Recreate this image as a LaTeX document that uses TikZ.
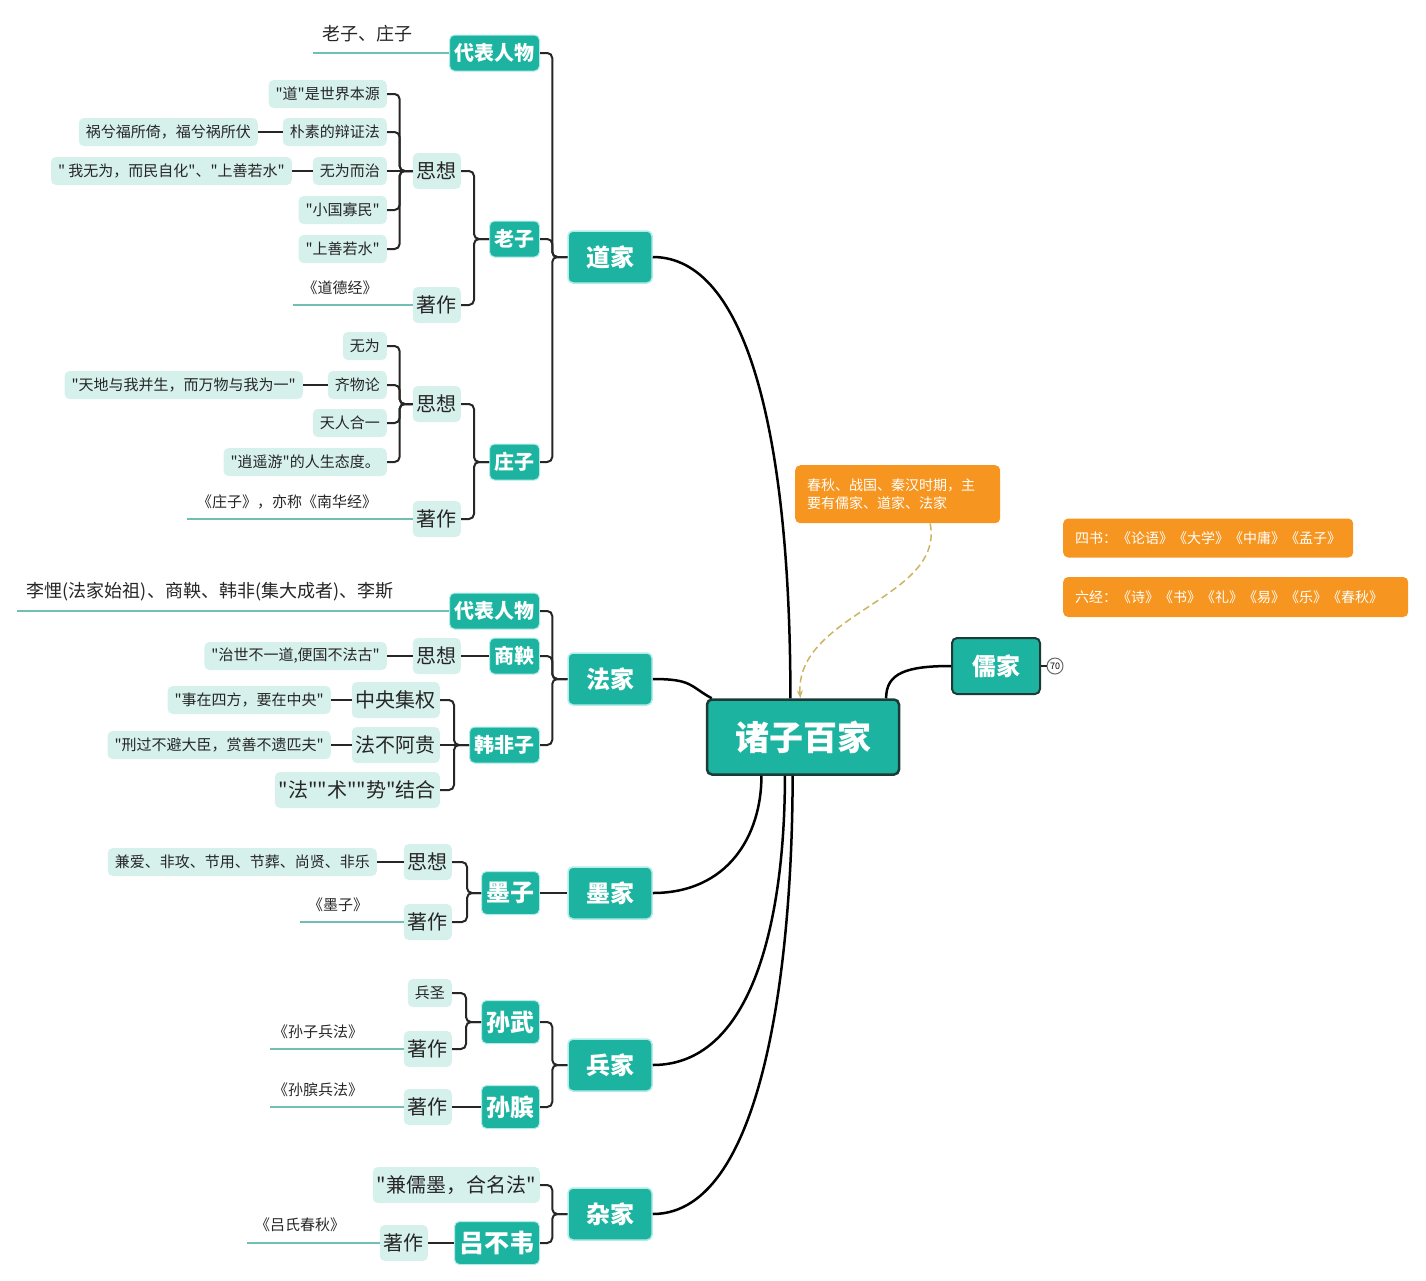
\documentclass[tikz,border=0pt]{standalone}
\usepackage{fontspec}
\setmainfont{Noto Sans CJK SC}[Ligatures=TeXOff]
\usepackage{tikz}
\usetikzlibrary{arrows.meta}

\definecolor{mint}{RGB}{28,180,161}
\definecolor{pale}{RGB}{214,240,236}
\definecolor{glow}{RGB}{178,236,232}
\definecolor{ink}{RGB}{38,38,38}
\definecolor{rim}{RGB}{28,58,54}
\definecolor{amber}{RGB}{246,150,32}
\definecolor{rule}{RGB}{112,190,180}
\definecolor{sand}{RGB}{204,180,96}

\begin{document}
\begin{tikzpicture}
[
x=1pt, y=-1pt,
every node/.style={inner sep=0pt, rounded corners=5pt},
root/.style={fill=mint, draw=rim, line width=2.5pt, text=white,
  font=\fontsize{34pt}{36pt}\selectfont\bfseries, minimum width=192, minimum height=75},
school/.style={fill=mint, draw=glow, line width=1.5pt, text=white,
  font=\fontsize{24pt}{26pt}\selectfont\bfseries, minimum width=84, minimum height=52},
person/.style={fill=mint, draw=glow, line width=1pt, text=white,
  font=\fontsize{20pt}{22pt}\selectfont\bfseries, inner xsep=5pt, minimum height=36, anchor=east},
big/.style={font=\fontsize{24pt}{26pt}\selectfont\bfseries, minimum height=43},
topic/.style={fill=pale, text=ink, font=\fontsize{20pt}{22pt}\selectfont,
  inner xsep=4pt, minimum height=36, anchor=east},
leaf/.style={fill=pale, text=ink, font=\fontsize{15pt}{17pt}\selectfont,
  inner xsep=7pt, minimum height=28, anchor=east},
title/.style={text=ink, font=\fontsize{15pt}{17pt}\selectfont},
note/.style={fill=amber, text=white, font=\fontsize{14pt}{18pt}\selectfont,
  inner xsep=12pt, inner ysep=9pt, align=left},
brace/.style={draw=ink, line width=2pt, rounded corners=5pt},
link/.style={draw=ink, line width=2pt},
stem/.style={draw=rule, line width=2pt},
trunk/.style={draw=black, line width=2.5pt},
hint/.style={draw=sand, line width=1.5pt, dash pattern=on 7pt off 4pt, -{Stealth[length=8pt]}}
]
\useasboundingbox (0,0) rectangle (1426,1280);

% centre and schools
\node[root] (main) at (803,737) {诸子百家};
\node[school] (daojia) at (610,257) {道家};
\node[school] (fajia) at (610,679) {法家};
\node[school] (mojia) at (610,893) {墨家};
\node[school] (bingjia) at (610,1065) {兵家};
\node[school] (zajia) at (610,1214) {杂家};
\node[school, draw=rim, line width=2pt, minimum width=88, minimum height=56] (rujia) at (996,666) {儒家};
\node[circle, draw=ink!70, fill=white, line width=1pt, minimum size=16,
  font=\fontsize{9pt}{9pt}\selectfont] (more) at (1055,666) {70};

% notes
\node[note, anchor=north west, text width=181pt, minimum height=58] (era) at (795,465)
  {春秋、战国、秦汉时期，主\\要有儒家、道家、法家};
\node[note, anchor=west, minimum height=39] (sishu) at (1063,538) {四书：《论语》《大学》《中庸》《孟子》};
\node[note, anchor=west, minimum height=40, text width=321pt] (liujing) at (1063,597) {六经：《诗》《书》《礼》《易》《乐》《春秋》};

% 道家
\node[person] (dj-rep) at (540,53) {代表人物};
\node[person] (laozi) at (540,239) {老子};
\node[person] (zhuangzi) at (540,462) {庄子};
\node[title, font=\fontsize{18pt}{20pt}\selectfont] (dj-who) at (367,34) {老子、庄子};
\coordinate (dj-end) at (313,53);

\node[topic] (lz-idea) at (461,171) {思想};
\node[topic] (lz-book) at (461,305) {著作};
\node[leaf] (lz-i1) at (387,94) {"道"是世界本源};
\node[leaf] (lz-i2) at (387,132) {朴素的辩证法};
\node[leaf] (lz-i3) at (387,171) {无为而治};
\node[leaf] (lz-i4) at (387,210) {"小国寡民"};
\node[leaf] (lz-i5) at (387,249) {"上善若水"};
\node[leaf] (lz-d2) at (258,132) {祸兮福所倚，福兮祸所伏};
\node[leaf] (lz-d3) at (292,171) {" 我无为，而民自化"、"上善若水"};
\node[title] (lz-work) at (340,288) {《道德经》};
\coordinate (lz-end) at (293,305);

\node[topic] (zz-idea) at (461,404) {思想};
\node[topic] (zz-book) at (461,519) {著作};
\node[leaf] (zz-i1) at (387,346) {无为};
\node[leaf] (zz-i2) at (387,385) {齐物论};
\node[leaf] (zz-i3) at (387,423) {天人合一};
\node[leaf] (zz-i4) at (387,462) {"逍遥游"的人生态度。};
\node[leaf] (zz-d2) at (303,385) {"天地与我并生，而万物与我为一"};
\node[title] (zz-work) at (287,502) {《庄子》，亦称《南华经》};
\coordinate (zz-end) at (187,519);

% 法家
\node[person] (fj-rep) at (540,611) {代表人物};
\node[person] (shangyang) at (540,656) {商鞅};
\node[person] (hanfeizi) at (540,745) {韩非子};
\node[title, font=\fontsize{18pt}{20pt}\selectfont] (fj-who) at (210,592) {李悝(法家始祖)、商鞅、韩非(集大成者)、李斯};
\coordinate (fj-end) at (17,611);
\node[topic] (sy-idea) at (461,656) {思想};
\node[leaf] (sy-d) at (387,656) {"治世不一道,便国不法古"};
\node[topic] (hf-1) at (440,700) {中央集权};
\node[topic] (hf-2) at (440,745) {法不阿贵};
\node[topic] (hf-3) at (440,790) {"法""术""势"结合};
\node[leaf] (hf-d1) at (331,700) {"事在四方，要在中央"};
\node[leaf] (hf-d2) at (331,745) {"刑过不避大臣，赏善不遗匹夫"};

% 墨家
\node[person, big] (mozi) at (540,893) {墨子};
\node[topic] (mz-idea) at (452,862) {思想};
\node[topic] (mz-book) at (452,922) {著作};
\node[leaf] (mz-d) at (377,862) {兼爱、非攻、节用、节葬、尚贤、非乐};
\node[title] (mz-work) at (338,905) {《墨子》};
\coordinate (mz-end) at (300,922);

% 兵家
\node[person, big] (sunwu) at (540,1022) {孙武};
\node[person, big] (sunbin) at (540,1107) {孙膑};
\node[leaf] (sw-1) at (452,993) {兵圣};
\node[topic] (sw-book) at (452,1049) {著作};
\node[title] (sw-work) at (318,1032) {《孙子兵法》};
\coordinate (sw-end) at (270,1049);
\node[topic] (sb-book) at (452,1107) {著作};
\node[title] (sb-work) at (318,1090) {《孙膑兵法》};
\coordinate (sb-end) at (270,1107);

% 杂家
\node[topic] (zj-1) at (540,1185) {"兼儒墨，合名法"};
\node[person, big, font=\fontsize{25pt}{27pt}\selectfont\bfseries] (lvbuwei) at (540,1243) {吕不韦};
\node[topic] (lbw-book) at (428,1243) {著作};
\node[title] (lbw-work) at (300,1225) {《吕氏春秋》};
\coordinate (lbw-end) at (247,1243);

% trunk curves
\draw[trunk] (daojia.east) .. controls +(95,0) and +(0,-260) .. (main.108);
\draw[trunk] (fajia.east) .. controls +(40,0) and +(-22,-12) .. (main.157);
\draw[trunk] (mojia.east) .. controls +(75,0) and +(0,60) .. (main.223);
\draw[trunk] (bingjia.east) .. controls +(105,0) and +(0,130) .. (main.245);
\draw[trunk] (zajia.east) .. controls +(115,0) and +(0,170) .. (main.255);
\draw[trunk] (rujia.west) .. controls +(-45,0) and +(0,-25) .. (main.25);
\draw[link, line width=1.2pt] (rujia.east) -- (more);
\draw[hint] (era.318) .. controls +(15,75) and +(-5,-85) .. (main.94);

% brackets
\draw[brace] (daojia.west) -- ++(-15,0) |- (dj-rep.east);
\draw[brace] (daojia.west) -- ++(-15,0) |- (laozi.east);
\draw[brace] (daojia.west) -- ++(-15,0) |- (zhuangzi.east);
\draw[brace] (laozi.west) -- ++(-15,0) |- (lz-idea.east);
\draw[brace] (laozi.west) -- ++(-15,0) |- (lz-book.east);
\draw[brace] (lz-idea.west) -- ++(-13,0) |- (lz-i1.east);
\draw[brace] (lz-idea.west) -- ++(-13,0) |- (lz-i2.east);
\draw[brace] (lz-idea.west) -- (lz-i3.east);
\draw[brace] (lz-idea.west) -- ++(-13,0) |- (lz-i4.east);
\draw[brace] (lz-idea.west) -- ++(-13,0) |- (lz-i5.east);
\draw[brace] (zhuangzi.west) -- ++(-15,0) |- (zz-idea.east);
\draw[brace] (zhuangzi.west) -- ++(-15,0) |- (zz-book.east);
\draw[brace] (zz-idea.west) -- ++(-13,0) |- (zz-i1.east);
\draw[brace] (zz-idea.west) -- ++(-13,0) |- (zz-i2.east);
\draw[brace] (zz-idea.west) -- ++(-13,0) |- (zz-i3.east);
\draw[brace] (zz-idea.west) -- ++(-13,0) |- (zz-i4.east);

\draw[brace] (fajia.west) -- ++(-15,0) |- (fj-rep.east);
\draw[brace] (fajia.west) -- ++(-15,0) |- (shangyang.east);
\draw[brace] (fajia.west) -- ++(-15,0) |- (hanfeizi.east);
\draw[brace] (hanfeizi.west) -- ++(-15,0) |- (hf-1.east);
\draw[brace] (hanfeizi.west) -- (hf-2.east);
\draw[brace] (hanfeizi.west) -- ++(-15,0) |- (hf-3.east);

\draw[link] (mojia.west) -- (mozi.east);
\draw[brace] (mozi.west) -- ++(-14,0) |- (mz-idea.east);
\draw[brace] (mozi.west) -- ++(-14,0) |- (mz-book.east);

\draw[brace] (bingjia.west) -- ++(-15,0) |- (sunwu.east);
\draw[brace] (bingjia.west) -- ++(-15,0) |- (sunbin.east);
\draw[brace] (sunwu.west) -- ++(-15,0) |- (sw-1.east);
\draw[brace] (sunwu.west) -- ++(-15,0) |- (sw-book.east);

\draw[brace] (zajia.west) -- ++(-15,0) |- (zj-1.east);
\draw[brace] (zajia.west) -- ++(-15,0) |- (lvbuwei.east);

% straight links
\draw[link] (lz-i2.west) -- (lz-d2.east);
\draw[link] (lz-i3.west) -- (lz-d3.east);
\draw[link] (zz-i2.west) -- (zz-d2.east);
\draw[link] (shangyang.west) -- (sy-idea.east);
\draw[link] (sy-idea.west) -- (sy-d.east);
\draw[link] (hf-1.west) -- (hf-d1.east);
\draw[link] (hf-2.west) -- (hf-d2.east);
\draw[link] (mz-idea.west) -- (mz-d.east);
\draw[link] (sunbin.west) -- (sb-book.east);
\draw[link] (lvbuwei.west) -- (lbw-book.east);

% underlines
\draw[stem] (dj-rep.west) -- (dj-end);
\draw[stem] (lz-book.west) -- (lz-end);
\draw[stem] (zz-book.west) -- (zz-end);
\draw[stem] (fj-rep.west) -- (fj-end);
\draw[stem] (mz-book.west) -- (mz-end);
\draw[stem] (sw-book.west) -- (sw-end);
\draw[stem] (sb-book.west) -- (sb-end);
\draw[stem] (lbw-book.west) -- (lbw-end);
\end{tikzpicture}
\end{document}
